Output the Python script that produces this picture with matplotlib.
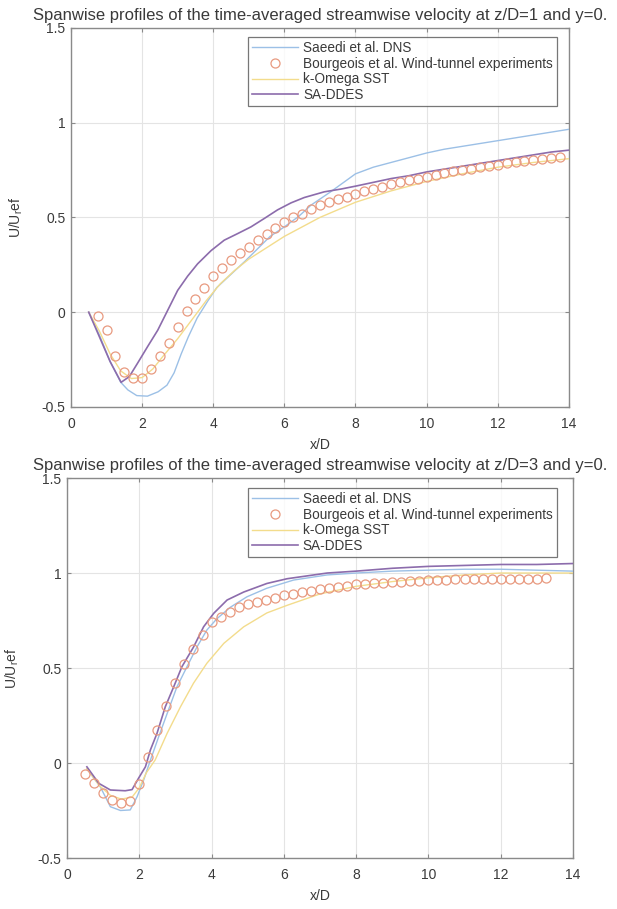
import numpy as np
import matplotlib
matplotlib.use('Agg')
import matplotlib.pyplot as plt

# ── data ──
# panel 1 : z/D = 1
dns1_x = [0.5, 0.8, 1.1, 1.4, 1.6, 1.85, 2.15, 2.45, 2.7, 2.9, 3.1, 3.3, 3.55, 3.85, 4.1,
          4.5, 4.9, 5.25, 5.6, 6.0, 6.4, 6.75, 7.3, 8.0, 8.5, 9.0, 9.5, 10.0, 10.5, 11.0,
          11.5, 12.0, 12.5, 13.0, 13.5, 14.0]
dns1_y = [0.0, -0.12, -0.26, -0.37, -0.41, -0.44, -0.443, -0.42, -0.385, -0.32, -0.22, -0.13,
          -0.03, 0.06, 0.13, 0.2, 0.27, 0.335, 0.4, 0.45, 0.505, 0.565, 0.635, 0.73, 0.765,
          0.79, 0.815, 0.84, 0.86, 0.875, 0.89, 0.905, 0.92, 0.935, 0.95, 0.965]

exp1_x = np.arange(0.75, 13.76, 0.25)
exp1_y = [-0.02, -0.095, -0.23, -0.315, -0.345, -0.345, -0.30, -0.23, -0.16, -0.08,
          0.005, 0.07, 0.13, 0.19, 0.235, 0.275, 0.31, 0.345, 0.38, 0.41,
          0.445, 0.475, 0.50, 0.52, 0.545, 0.565, 0.58, 0.595, 0.61, 0.625,
          0.64, 0.65, 0.66, 0.675, 0.685, 0.695, 0.705, 0.715, 0.725, 0.735,
          0.745, 0.75, 0.757, 0.765, 0.772, 0.778, 0.785, 0.79, 0.797, 0.803,
          0.81, 0.815, 0.82]

sst1_x = [0.5, 0.8, 1.1, 1.4, 1.7, 2.0, 2.3, 2.6, 3.0, 3.4, 3.8, 4.2, 4.6, 5.0, 5.5, 6.0,
          6.5, 7.0, 7.5, 8.0, 9.0, 10.0, 11.0, 12.0, 13.0, 14.0]
sst1_y = [0.0, -0.1, -0.22, -0.31, -0.35, -0.345, -0.3, -0.23, -0.14, -0.04, 0.06, 0.15,
          0.22, 0.28, 0.34, 0.4, 0.45, 0.5, 0.54, 0.58, 0.64, 0.69, 0.73, 0.765, 0.79, 0.81]

ddes1_x = [0.5, 0.8, 1.1, 1.41, 1.64, 1.87, 2.16, 2.44, 2.72, 3.0, 3.28, 3.56, 3.94, 4.31,
           4.69, 5.06, 5.44, 5.81, 6.19, 6.56, 7.12, 7.6, 8.0, 8.5, 9.0, 9.5, 10.0, 10.5,
           11.0, 11.5, 12.0, 12.5, 13.0, 13.5, 14.0]
ddes1_y = [0.0, -0.13, -0.26, -0.37, -0.34, -0.27, -0.18, -0.095, 0.01, 0.115, 0.19, 0.255,
           0.325, 0.38, 0.415, 0.45, 0.495, 0.54, 0.577, 0.605, 0.635, 0.65, 0.665, 0.685,
           0.705, 0.72, 0.74, 0.755, 0.77, 0.785, 0.8, 0.815, 0.83, 0.845, 0.855]

# panel 2 : z/D = 3
dns2_x = [0.55, 0.92, 1.2, 1.48, 1.75, 1.94, 2.12, 2.31, 2.54, 2.77, 3.04, 3.32, 3.6, 3.87,
          4.15, 4.52, 4.98, 5.53, 6.27, 7.2, 8.0, 9.0, 10.0, 11.0, 12.0, 13.0, 14.0]
dns2_y = [-0.03, -0.125, -0.23, -0.25, -0.247, -0.177, -0.09, 0.016, 0.14, 0.26, 0.4, 0.507,
          0.612, 0.7, 0.76, 0.82, 0.875, 0.92, 0.963, 0.99, 1.0, 1.01, 1.015, 1.02, 1.02,
          1.015, 1.01]

exp2_x = np.arange(0.5, 13.26, 0.25)
exp2_y = [-0.06, -0.105, -0.16, -0.195, -0.21, -0.2, -0.11, 0.03, 0.175, 0.30,
          0.42, 0.52, 0.60, 0.675, 0.74, 0.77, 0.795, 0.82, 0.835, 0.848,
          0.858, 0.87, 0.885, 0.892, 0.9, 0.907, 0.915, 0.92, 0.927, 0.933,
          0.94, 0.943, 0.947, 0.95, 0.953, 0.955, 0.958, 0.96, 0.962, 0.964,
          0.965, 0.966, 0.967, 0.968, 0.968, 0.969, 0.97, 0.97, 0.97, 0.971,
          0.971, 0.972]

sst2_x = [0.55, 0.9, 1.2, 1.5, 1.8, 2.0, 2.2, 2.44, 2.77, 3.14, 3.5, 3.87, 4.34, 4.89, 5.53,
          6.09, 7.0, 8.0, 9.0, 10.0, 11.0, 12.0, 13.0, 14.0]
sst2_y = [-0.03, -0.12, -0.17, -0.19, -0.18, -0.13, -0.05, 0.016, 0.156, 0.296, 0.42, 0.525,
          0.63, 0.717, 0.79, 0.83, 0.89, 0.93, 0.955, 0.975, 0.99, 1.0, 1.0, 1.0]

ddes2_x = [0.55, 0.88, 1.2, 1.61, 1.8, 1.98, 2.17, 2.31, 2.49, 2.72, 2.95, 3.18, 3.5, 3.78,
           4.06, 4.43, 4.89, 5.53, 6.09, 7.2, 8.0, 9.0, 10.0, 11.0, 12.0, 13.0, 14.0]
ddes2_y = [-0.02, -0.107, -0.142, -0.146, -0.14, -0.08, -0.02, 0.07, 0.156, 0.296, 0.4,
           0.507, 0.61, 0.717, 0.788, 0.858, 0.9, 0.945, 0.97, 1.0, 1.01, 1.025, 1.035,
           1.04, 1.045, 1.045, 1.05]

titles = ['Spanwise profiles of the time-averaged streamwise velocity at z/D=1 and y=0.',
          'Spanwise profiles of the time-averaged streamwise velocity at z/D=3 and y=0.']
labels = ['Saeedi et al. DNS', 'Bourgeois et al. Wind-tunnel experiments',
          'k-Omega SST', 'SA-DDES']

# ── colours ──
BLUE   = '#9cc0e6'
ORANGE = '#e89a80'
YELLOW = '#f3dc8c'
PURPLE = '#8c6cac'
TXT    = '#3a3a3a'

plt.rcParams['font.family'] = ['Liberation Sans', 'DejaVu Sans']
plt.rcParams['font.size'] = 10

fig = plt.figure(figsize=(6.17, 9.09), dpi=100)
ax1 = fig.add_axes([0.115, 0.5523, 0.807, 0.417])
ax2 = fig.add_axes([0.1086, 0.0561, 0.82, 0.418])

panels = [
    (ax1, dns1_x, dns1_y, exp1_x, exp1_y, sst1_x, sst1_y, ddes1_x, ddes1_y, (0.976, 0.976)),
    (ax2, dns2_x, dns2_y, exp2_x, exp2_y, sst2_x, sst2_y, ddes2_x, ddes2_y, (0.968, 0.974)),
]

for k, (ax, dx, dy, ex, ey, sx, sy, px, py, anchor) in enumerate(panels):
    ax.plot(dx, dy, color=BLUE, lw=1.0, label=labels[0], zorder=3)
    ax.plot(ex, ey, 'o', mfc='none', mec=ORANGE, ms=6.5, mew=0.9, label=labels[1], zorder=4)
    ax.plot(sx, sy, color=YELLOW, lw=1.0, label=labels[2], zorder=3)
    ax.plot(px, py, color=PURPLE, lw=1.2, label=labels[3], zorder=3)

    ax.set_xlim(0, 14)
    ax.set_ylim(-0.5, 1.5)
    ax.set_xticks(range(0, 15, 2))
    ax.set_yticks([-0.5, 0, 0.5, 1, 1.5])
    ax.set_yticklabels(['-0.5', '0', '0.5', '1', '1.5'])
    ax.grid(True, color='#e4e4e4', lw=0.8)
    ax.set_axisbelow(True)
    for s in ax.spines.values():
        s.set_color('#8a8a8a')
        s.set_linewidth(1.0)
    ax.tick_params(direction='in', length=3, top=True, right=True,
                   color='#8a8a8a', labelcolor=TXT, labelsize=10)
    ax.tick_params(axis='x', pad=7)
    ax.tick_params(axis='y', pad=4)
    ax.set_xlabel('x/D', color=TXT, fontsize=10, labelpad=5)
    ax.set_ylabel('U/U$_{\\mathregular{r}}$ef', color=TXT, fontsize=10, labelpad=12)
    ax.set_title(titles[k], color=TXT, fontsize=12, pad=6)

    leg = ax.legend(loc='upper right', bbox_to_anchor=anchor, borderaxespad=0,
                    fontsize=9.8, frameon=True, fancybox=False, handlelength=3.4,
                    handletextpad=0.35, labelspacing=0.12, borderpad=0.3)
    leg.get_frame().set_edgecolor('#555555')
    leg.get_frame().set_linewidth(0.9)
    for t in leg.get_texts():
        t.set_color(TXT)

fig.savefig('out.png', dpi=100, facecolor='white')
plt.close()
